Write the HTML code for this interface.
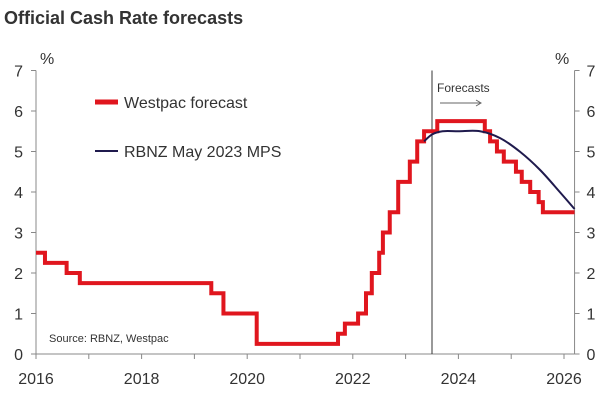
<!DOCTYPE html>
<html><head><meta charset="utf-8"><style>
body{margin:0;background:#fff;font-family:"Liberation Sans",sans-serif}
svg text{font-family:"Liberation Sans",sans-serif;fill:#333}
</style></head><body>
<svg width="600" height="403" id="chart">
<text x="4" y="24" font-size="18" font-weight="bold" fill="#444">Official Cash Rate forecasts</text>
<g id="axes"></g>
<g id="marks"></g>
<text x="40" y="64" font-size="16">%</text>
<text x="555" y="64" font-size="16">%</text>
<line x1="95" y1="102" x2="118" y2="102" stroke="#e0161e" stroke-width="5"/>
<text x="124" y="108" font-size="16">Westpac forecast</text>
<line x1="95" y1="151" x2="118" y2="151" stroke="#1f1a4d" stroke-width="2"/>
<text x="124" y="157" font-size="16">RBNZ May 2023 MPS</text>
<text x="49" y="342" font-size="11">Source: RBNZ, Westpac</text>
<text x="437" y="92" font-size="12">Forecasts</text>
<line x1="440" y1="103" x2="481" y2="103" stroke="#666" stroke-width="1"/>
<path d="M476 100 L481 103 L476 106" fill="none" stroke="#666" stroke-width="1"/>
</svg>
<script>
const westpacDates=[2016.0,2016.17,2016.58,2016.83,2019.32,2019.55,2020.18,2021.72,2021.85,2022.1,2022.25,2022.36,2022.5,2022.57,2022.7,2022.86,2023.08,2023.22,2023.35,2023.6,2024.5,2024.6,2024.73,2024.86,2025.09,2025.2,2025.36,2025.52,2025.6];
const westpacRates=[2.5,2.25,2.0,1.75,1.5,1.0,0.25,0.5,0.75,1.0,1.5,2.0,2.5,3.0,3.5,4.25,4.75,5.25,5.5,5.75,5.5,5.25,5.0,4.75,4.5,4.25,4.0,3.75,3.5];
const rbnzDates=[2023.35,2023.5,2023.7,2024.0,2024.41,2024.79,2025.17,2025.55,2025.92,2026.2];
const rbnzRates=[5.25,5.42,5.5,5.5,5.5,5.33,4.99,4.54,4.0,3.58];
const yTicks=[0,1,2,3,4,5,6,7];
const xTickLabels=[2016,2018,2020,2022,2024,2026];
const forecastStart=2023.5;
const xEnd=2026.2;
const X=d=>36+(d-2016)*52.8;
const Y=v=>354-v*40.5;
const NS='http://www.w3.org/2000/svg';
const axes=document.getElementById('axes'),marks=document.getElementById('marks');
function mk(tag,attrs,parent){const e=document.createElementNS(NS,tag);for(const k in attrs)e.setAttribute(k,attrs[k]);parent.appendChild(e);return e;}
let e;
e=mk('line',{x1:X(2016),y1:Y(7),x2:X(2016),y2:Y(0),stroke:'#888'},axes);


e=mk('line',{x1:X(xEnd),y1:Y(7),x2:X(xEnd),y2:Y(0),stroke:'#888'},axes);


e=mk('line',{x1:X(2016),y1:Y(0),x2:X(xEnd),y2:Y(0),stroke:'#888'},axes);


yTicks.forEach(v=>{
 mk('line',{x1:X(2016)-5,y1:Y(v),x2:X(2016),y2:Y(v),stroke:'#888'},axes);
 mk('line',{x1:X(xEnd),y1:Y(v),x2:X(xEnd)+5,y2:Y(v),stroke:'#888'},axes);
 e=mk('text',{x:X(2016)-13,y:Y(v)+6,'font-size':16,'text-anchor':'end'},axes);e.textContent=v;
 
 
 e=mk('text',{x:X(xEnd)+12,y:Y(v)+6,'font-size':16},axes);e.textContent=v;
 
 
});
for(let yr=2016;yr<=2026;yr++){mk('line',{x1:X(yr),y1:Y(0),x2:X(yr),y2:Y(0)+5,stroke:'#888'},axes);}
xTickLabels.forEach(yr=>{
 e=mk('text',{x:X(yr),y:Y(0)+30,'font-size':16,'text-anchor':'middle'},axes);e.textContent=yr;
 
 
});
e=mk('line',{x1:X(forecastStart),y1:Y(7),x2:X(forecastStart),y2:Y(0),stroke:'#333','stroke-width':1},marks);


let d='M'+X(westpacDates[0])+' '+Y(westpacRates[0]);
for(let i=1;i<westpacDates.length;i++){d+=' H'+X(westpacDates[i])+' V'+Y(westpacRates[i]);}
d+=' H'+X(xEnd);
e=mk('path',{d:d,fill:'none',stroke:'#e0161e','stroke-width':4},marks);


let p=rbnzDates.map((t,i)=>[X(t),Y(rbnzRates[i])]);
let d2='M'+p[0][0]+' '+p[0][1];
for(let i=0;i<p.length-1;i++){const p0=p[i-1]||p[i],p1=p[i],p2=p[i+1],p3=p[i+2]||p2;
 d2+=` C${p1[0]+(p2[0]-p0[0])/6} ${p1[1]+(p2[1]-p0[1])/6} ${p2[0]-(p3[0]-p1[0])/6} ${p2[1]-(p3[1]-p1[1])/6} ${p2[0]} ${p2[1]}`;}
e=mk('path',{d:d2,fill:'none',stroke:'#1f1a4d','stroke-width':2},marks);


</script>
</body></html>
